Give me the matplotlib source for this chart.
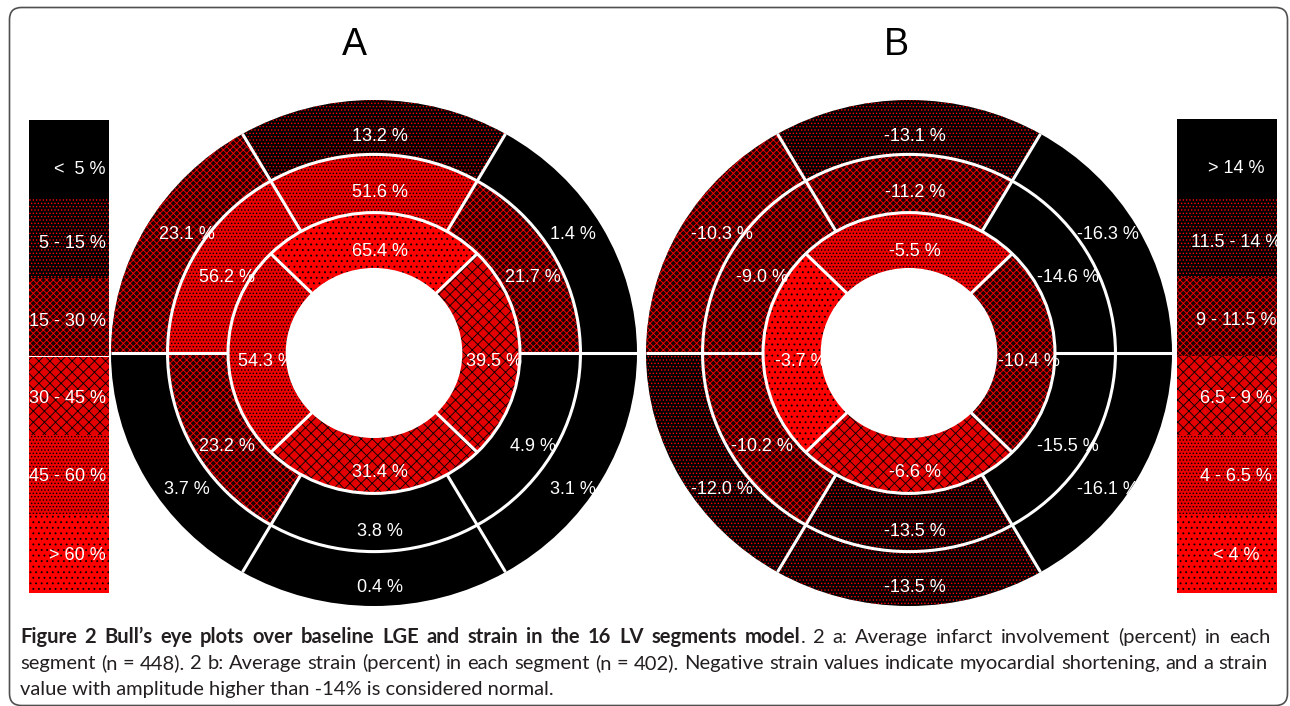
import matplotlib
matplotlib.use("Agg")
import matplotlib.pyplot as plt
from matplotlib.patches import Wedge, Rectangle, FancyBboxPatch, Circle
import numpy as np

# ---------------- data ----------------
# basal / mid order: anterior, anteroseptal, inferoseptal, inferior, inferolateral, anterolateral
# apical order: anterior, septal, inferior, lateral
lge_basal = [13.2, 23.1, 3.7, 0.4, 3.1, 1.4]
lge_mid = [51.6, 56.2, 23.2, 3.8, 4.9, 21.7]
lge_apical = [65.4, 54.3, 31.4, 39.5]

strain_basal = [-13.1, -10.3, -12.0, -13.5, -16.1, -16.3]
strain_mid = [-11.2, -9.0, -10.2, -13.5, -15.5, -14.6]
strain_apical = [-5.5, -3.7, -6.6, -10.4]

lge_bins = [5, 15, 30, 45, 60]
lge_legend = ["<  5 %", "5 - 15 %", "15 - 30 %", "30 - 45 %", "45 - 60 %", "> 60 %"]
strain_bins = [14, 11.5, 9, 6.5, 4]
strain_legend = ["> 14 %", "11.5 - 14 %", "9 - 11.5 %", "6.5 - 9 %", "4 - 6.5 %", "< 4 %"]

panel_titles = ["A", "B"]
caption_bold = "Figure 2 Bull\u2019s eye plots over baseline LGE and strain in the 16 LV segments model"
caption_l1 = ". 2 a: Average infarct involvement (percent) in each"
caption_l2 = ("segment (n = 448). 2 b: Average strain (percent) in each segment (n = 402). "
              "Negative strain values indicate myocardial shortening, and a strain")
caption_l3 = "value with amplitude higher than -14% is considered normal."

# ---------------- styles ----------------
plt.rcParams["hatch.linewidth"] = 0.6
STYLES = [
    ("#000000", None, None),
    ("#000000", "#ff0000", "....."),
    ("#200000", "#ff0000", "xxxxx"),
    ("#e40000", "#000000", "xxx"),
    ("#ec0000", "#000000", "....."),
    ("#ff0000", "#000000", "..."),
]
FONT = "Liberation Sans"


def lge_cat(v):
    return int(np.digitize(v, lge_bins))


def strain_cat(v):
    return int(sum(abs(v) < t for t in strain_bins))


W, H = 1290, 706
fig = plt.figure(figsize=(W / 100, H / 100), dpi=100)
bg = fig.add_axes([0, 0, 1, 1])
bg.set_xlim(0, W)
bg.set_ylim(H, 0)
bg.axis("off")

# frame
bg.add_patch(FancyBboxPatch((9.5, 7.5), 1278, 698, boxstyle="round,pad=0,rounding_size=12",
                            ec="#505050", fc="none", lw=1.2))


def add_styled(ax, factory, cat):
    fc, hc, hatch = STYLES[cat]
    ax.add_patch(factory(facecolor=fc, edgecolor="none", linewidth=0))
    if hatch:
        ax.add_patch(factory(facecolor="none", edgecolor=hc, hatch=hatch, linewidth=0))


RX, RY = 263, 253
R = [1.0, 0.785, 0.555, 0.33]
LAB_R = [0.89, 0.67, 0.435]
LAB_K = [0.925, 1.0, 1.0]
DX, DY = 6 / RX, -9 / RY


def bullseye(cx, cy, basal, mid, apical, catfn):
    ax = fig.add_axes([(cx - RX) / W, (H - cy - RY) / H, 2 * RX / W, 2 * RY / H])
    ax.set_xlim(-1, 1)
    ax.set_ylim(-1, 1)
    ax.axis("off")
    rings = [(basal, R[0], R[1], 60, 60), (mid, R[1], R[2], 60, 60), (apical, R[2], R[3], 45, 90)]
    for k, (vals, ro, ri, start, step) in enumerate(rings):
        for i, v in enumerate(vals):
            t1 = start + step * i
            t2 = t1 + step
            fac = lambda ro=ro, ri=ri, t1=t1, t2=t2, **kw: Wedge((0, 0), ro, t1, t2, width=ro - ri, **kw)
            add_styled(ax, fac, catfn(v))
            tm = ((t1 + t2) / 2) % 360
            axis_ang = 90 if tm < 180 else 270
            if tm in (0, 180):
                axis_ang = tm
            tl = np.deg2rad(axis_ang + (tm - axis_ang) * LAB_K[k])
            ax.text(LAB_R[k] * np.cos(tl) + DX, LAB_R[k] * np.sin(tl) + DY, f"{v:.1f} %",
                    color="white", fontsize=13, family=FONT, ha="center", va="center")
    # white borders
    for r in (R[1], R[2], R[3]):
        ax.add_patch(Circle((0, 0), r, fill=False, ec="white", lw=2.2))
    for a in range(0, 360, 60):
        t = np.deg2rad(a)
        ax.plot([R[2] * np.cos(t), R[0] * np.cos(t)], [R[2] * np.sin(t), R[0] * np.sin(t)],
                color="white", lw=2.2, solid_capstyle="butt")
    for a in range(45, 360, 90):
        t = np.deg2rad(a)
        ax.plot([R[3] * np.cos(t), R[2] * np.cos(t)], [R[3] * np.sin(t), R[2] * np.sin(t)],
                color="white", lw=2.2, solid_capstyle="butt")
    return ax


bullseye(374, 353, lge_basal, lge_mid, lge_apical, lge_cat)
bullseye(909, 353, strain_basal, strain_mid, strain_apical, strain_cat)

bg.text(354, 45, panel_titles[0], fontsize=27, family=FONT, ha="center", va="center")
bg.text(896, 45, panel_titles[1], fontsize=27, family=FONT, ha="center", va="center")

# legends
LEG_DY = [10, 5, 4, 3, 2, 2]


def legend(x0, w, top, bottom, labels, tx, ha):
    h = (bottom - top) / len(labels)
    for i, lab in enumerate(labels):
        y0 = top + i * h
        fac = lambda y0=y0, **kw: Rectangle((x0, y0), w, h, **kw)
        add_styled(bg, fac, i)
        bg.text(tx, y0 + h / 2 + LEG_DY[i], lab, color="white", fontsize=13, family=FONT,
                ha=ha, va="center")


legend(29, 80, 120, 593, lge_legend, 106, "right")
legend(1177, 100, 119, 593, strain_legend, 1236, "center")

# caption
CAP = "Lato"
col = "#231f20"
renderer = fig.canvas.get_renderer()
probe = bg.text(20, 695, caption_l3, fontsize=12, family=CAP, va="baseline")
w3 = probe.get_window_extent(renderer).width
probe.remove()
fs = 12 * 533 / w3


def justified(y, segments, x0, x1):
    toks = []
    for text, weight in segments:
        words = text.split(" ")
        for j, wd in enumerate(words):
            if wd == "":
                continue
            sp = (j > 0) or text.startswith(" ")
            toks.append((wd, weight, sp))
    arts, widths = [], []
    for wd, weight, sp in toks:
        t = bg.text(x0, y, wd, fontsize=fs, family=CAP, weight=weight, color=col, va="baseline")
        arts.append(t)
        widths.append(t.get_window_extent(renderer).width)
    nsp = sum(1 for i, tk in enumerate(toks) if tk[2] and i > 0)
    gap = (x1 - x0 - sum(widths)) / nsp
    x = x0
    for i, (t, wdt, tk) in enumerate(zip(arts, widths, toks)):
        if i > 0 and tk[2]:
            x += gap
        t.set_x(x)
        x += wdt


justified(643, [(caption_bold, "bold"), (caption_l1, "normal")], 20, 1270)
justified(669, [(caption_l2, "normal")], 20, 1268)
bg.text(20, 695, caption_l3, fontsize=fs, family=CAP, color=col, va="baseline")

fig.savefig("out.png", dpi=100)
